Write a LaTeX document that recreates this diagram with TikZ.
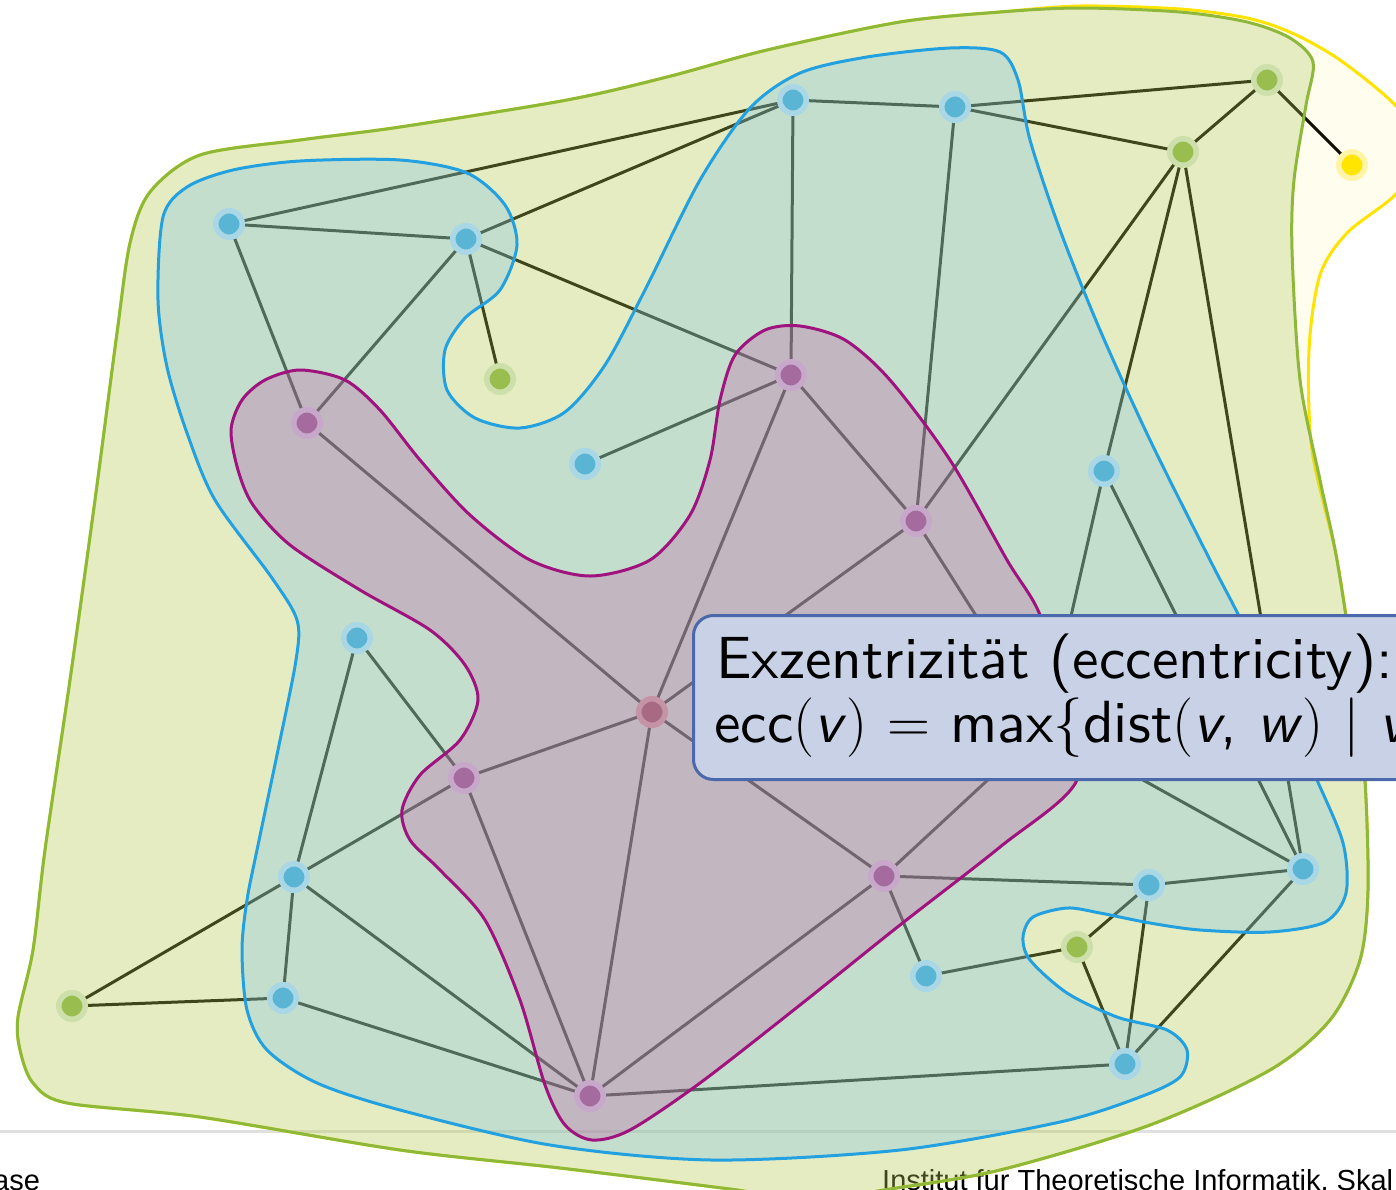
\RequirePackage{fix-cm}
\documentclass[tikz,border=0pt]{standalone}
\usepackage{fontspec}
\newfontfamily\sften{lmsans10-regular.otf}[ItalicFont=lmsans10-oblique.otf]
\newfontfamily\arialfont{Liberation Sans}
\definecolor{gfill}{HTML}{ACC65C}
\definecolor{gline}{HTML}{8DB83A}
\definecolor{bfill}{HTML}{75BFE9}
\definecolor{bline}{HTML}{22A0E0}
\definecolor{pfill}{HTML}{C15BA7}
\definecolor{pline}{HTML}{A0127E}
\definecolor{yfill}{HTML}{FFE000}
\definecolor{yline}{HTML}{FFE300}
\definecolor{bcore}{HTML}{5AB4D3}
\definecolor{bhalo}{HTML}{A9D7E6}
\definecolor{gcore}{HTML}{9ABD4F}
\definecolor{ghalo}{HTML}{CDE0AC}
\definecolor{pcore}{HTML}{A56B9F}
\definecolor{phalo}{HTML}{C7A7CA}
\definecolor{ycore}{HTML}{FFE500}
\definecolor{yhalo}{HTML}{FFF4A8}
\definecolor{ccore}{HTML}{A76A82}
\definecolor{chalo}{HTML}{C593A5}
\definecolor{boxfill}{HTML}{C9D1E6}
\definecolor{boxline}{HTML}{4A68AA}
\definecolor{footgray}{HTML}{E0E0E0}
\tikzset{
  vtx/.style={circle, minimum size=26.5pt, inner sep=0pt, line width=5.5pt},
  bv/.style={vtx, fill=bcore, draw=bhalo},
  gv/.style={vtx, fill=gcore, draw=ghalo},
  pv/.style={vtx, fill=pcore, draw=phalo},
  yv/.style={vtx, fill=ycore, draw=yhalo},
  cv/.style={vtx, fill=ccore, draw=chalo},
  edge/.style={line width=3pt, black},
  region/.style={line width=3pt, fill opacity=0.3},
  bigtext/.style={anchor=base west, inner sep=0pt, font=\fontsize{59.5}{72}\selectfont\sften},
  foottext/.style={anchor=base west, inner sep=0pt, font=\fontsize{29}{34}\selectfont\arialfont},
}
\begin{document}
\begin{tikzpicture}[x=1pt,y=-1pt]
\useasboundingbox (0,0) rectangle (1396,1189);
\clip (0,0) rectangle (1396,1189);
% footer (lies under the regions)
\draw[line width=3pt, footgray] (0,1131) -- (1396,1131);
\node[foottext] (footl) at (-7,1190) {ase};
\node[foottext] (footr) at (882,1190) {Institut für Theoretische Informatik, Skal};
% vertex positions
\coordinate (g1) at (1267,80);
\coordinate (g2) at (1183,152);
\coordinate (g3) at (500,379);
\coordinate (g4) at (72,1006);
\coordinate (g5) at (1077,947);
\coordinate (y1) at (1352,165);
\coordinate (b1) at (793,100);
\coordinate (b2) at (955,107);
\coordinate (b3) at (229,224);
\coordinate (b4) at (466,239);
\coordinate (b5) at (585,464);
\coordinate (b6) at (1104,471);
\coordinate (b7) at (357,638);
\coordinate (b8) at (294,877);
\coordinate (b9) at (283,998);
\coordinate (b10) at (1149,885);
\coordinate (b11) at (1303,869);
\coordinate (b12) at (926,976);
\coordinate (b13) at (1125,1064);
\coordinate (p1) at (791,375);
\coordinate (p2) at (307,423);
\coordinate (p3) at (916,521);
\coordinate (p4) at (464,778);
\coordinate (p5) at (590,1096);
\coordinate (p6) at (884,876);
\coordinate (h1) at (1046,726);
\coordinate (c) at (652,712);
% edges
\foreach \u/\v in {b3/b1,b3/b4,b4/b1,b1/b2,b2/g1,b2/g2,g2/g1,g1/y1,b1/p1,b2/p3,g2/p3,g2/b6,g2/b11,
  b4/g3,b4/p2,b4/p1,b3/p2,p1/b5,p1/p3,p1/c,p2/c,p3/c,p3/h1,b6/h1,b6/b11,h1/p6,h1/b11,
  b7/p4,b7/b8,p4/c,p4/b8,p4/p5,c/p5,c/p6,b8/b9,b8/g4,b8/p5,g4/b9,b9/p5,p5/p6,p5/b13,
  p6/b12,p6/b10,b10/b11,b10/g5,b10/b13,g5/b12,g5/b13,b11/b13}
  \draw[edge] (\u) -- (\v);
% yellow region
\draw[line width=3pt, draw=yline, fill=yfill, fill opacity=0.07] plot[smooth cycle] coordinates {
 (150,192) (200,155) (300,140) (400,127) (567,100) (667,77) (767,50) (900,22) (1000,12) (1080,6)
 (1180,9) (1247,18) (1292,33) (1340,60) (1396,106) (1422,150) (1396,194) (1347,233) (1320,275)
 (1309,350) (1312,450) (1337,560) (1355,680) (1365,780) (1368,890) (1360,960) (1330,1020) (1270,1070)
 (1150,1125) (1000,1170) (890,1189) (810,1200) (730,1189) (560,1168) (400,1150) (200,1117) (67,1103)
 (33,1083) (20,1050) (18,1017) (33,950) (45,850) (70,680) (95,500) (117,333) (130,243)};
% green region
\draw[region, draw=gline, fill=gfill] plot[smooth cycle] coordinates {
 (150,192) (200,155) (300,140) (400,127) (567,100) (667,77) (767,50) (900,22) (1000,12) (1080,8)
 (1180,12) (1247,22) (1290,38) (1313,62) (1306,105) (1294,180) (1292,250) (1300,380) (1320,480)
 (1337,560) (1355,680) (1365,780) (1368,890) (1360,960) (1330,1020) (1270,1070) (1150,1125)
 (1000,1170) (890,1189) (810,1200) (730,1189) (560,1168) (400,1150) (200,1117) (67,1103)
 (33,1083) (20,1050) (18,1017) (33,950) (45,850) (70,680) (95,500) (117,333) (130,243)};
% blue region
\draw[region, draw=bline, fill=bfill] plot[smooth cycle] coordinates {
 (233,170) (300,161) (400,160) (467,173) (505,205) (517,245) (500,290) (465,318) (445,350)
 (447,390) (475,418) (520,428) (565,412) (605,365) (645,290) (700,180) (750,108) (800,73)
 (867,57) (950,48) (1000,52) (1018,80) (1030,140) (1060,230) (1100,330) (1150,440) (1210,560)
 (1240,618) (1290,720) (1317,780) (1343,843) (1346,893) (1325,922) (1270,932) (1200,930)
 (1150,923) (1100,913) (1067,908) (1033,917) (1023,937) (1030,960) (1067,993) (1117,1017)
 (1167,1030) (1187,1050) (1180,1077) (1140,1097) (1060,1122) (900,1150) (712,1160) (550,1145)
 (400,1110) (317,1083) (267,1050) (247,1010) (242,950) (247,900) (257,850) (278,750) (296,660)
 (297,620) (272,578) (215,500) (187,433) (167,367) (158,300) (163,217) (187,187)};
% purple region
\draw[region, draw=pline, fill=pfill] plot[smooth cycle] coordinates {
 (300,370) (345,380) (380,410) (420,460) (470,515) (530,560) (590,576) (650,560) (690,515)
 (710,460) (720,400) (735,355) (765,330) (800,326) (845,340) (890,380) (950,460) (1007,560)
 (1040,615) (1062,700) (1077,780) (1000,847) (900,925) (800,1005) (700,1083) (630,1130)
 (592,1140) (565,1125) (545,1085) (520,1000) (485,920) (440,870) (410,840) (402,810) (420,775)
 (460,740) (478,700) (465,665) (430,630) (360,590) (290,545) (253,505) (238,470) (231,430)
 (242,400) (265,380)};
% vertices
\foreach \n in {g1,g2,g3,g4,g5} \node[gv] (n\n) at (\n) {};
\foreach \n in {b1,b2,b3,b4,b5,b6,b7,b8,b9,b10,b11,b12,b13} \node[bv] (n\n) at (\n) {};
\foreach \n in {p1,p2,p3,p4,p5,p6,h1} \node[pv] (n\n) at (\n) {};
\node[yv] (ny1) at (y1) {};
\node[cv] (nc) at (c) {};
% definition box
\node[draw=boxline, fill=boxfill, line width=3pt, rounded corners=20pt, minimum width=760pt,
  minimum height=164pt, anchor=north west, inner sep=0pt] (defbox) at (692,614) {};
\node[bigtext] (line1) at (716,678) {Exzentrizität (eccentricity):};
\node[bigtext] (line2) at (714,742)
  {ecc$\bigl($\textit{v}$\bigr)$ $=$ max$\bigl\{$dist$\bigl($\textit{v}, \textit{w}$\bigr)$ $\bigm|$ \textit{v}};
\end{tikzpicture}
\end{document}
